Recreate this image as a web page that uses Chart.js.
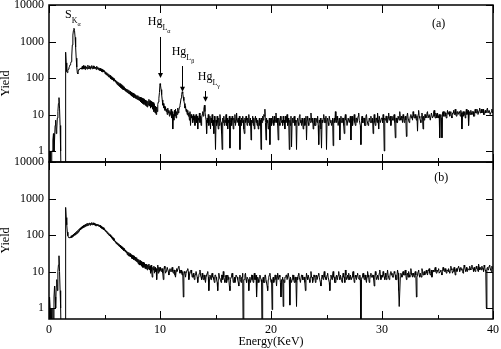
<!DOCTYPE html>
<html><head><meta charset="utf-8">
<script src="https://cdn.jsdelivr.net/npm/chart.js@4/dist/chart.umd.min.js"></script>
<style>
html,body{margin:0;padding:0;background:#fff;width:501px;height:349px;overflow:hidden;position:relative}
canvas{position:absolute;left:0}
#ca{top:0}
#cb{top:150px}
#warn{position:absolute;left:200px;top:150px;color:red;font:12px sans-serif}
</style></head><body>
<canvas id="ca" width="501" height="170"></canvas>
<canvas id="cb" width="501" height="199"></canvas>
<script>
// Channel energy calibration (keV)
const E_START = 0, E_STEP = 0.05;

// Panel (a) yield, one row of 20 channels per keV; last value at 40.00 keV
const yieldA = [
0.1,1,1,0.1,0.1,1,1,2,3,1,2,5,7,3,4,8,12,20,29,15,
5,1,0.1,0.1,0.1,0.1,0.1,0.1,0.1,0.1,510,260,150,140,160,175,190,210,230,250,
280,400,800,1500,2000,2300,2000,1300,700,350,200,140,130,165,175,170,185,180,190,175,
210,175,220,180,205,170,215,185,200,175,225,190,180,215,175,205,190,220,178,200,
215,180,205,185,200,170,210,178,195,168,190,160,185,158,178,150,172,145,165,148,
155,130,148,122,140,118,132,108,125,104,118,96,110,92,104,88,98,82,95,80,
88,72,82,66,78,62,74,58,70,55,66,52,62,49,58,47,55,44,52,42,
50,40,48,38,46,36,43,34,41,32,39,31,38,29,36,28,35,27,33,26,
33,25,31,24,30,22,29,21,28,20,27,19,26,18,25,17,24,16,23,18,
26,17,24,15,23,16,22,14,21,12,19,11,17,10,16,12,19,22,28,40,
70,62,48,35,25,18,20,15,17,13,16,12,14,10,15,11,13,9,12,10,
14,8,12,4,10,7,13,9,14,8,12,10,15,11,13,16,18,22,28,35,
42,38,30,24,20,15,17,12,14,10,13,9,11,7,12,5,10,8,9,6,
10,7,9,5,8,10,6,9,4,8,7,11,6,9,5,8,10,12,9,14,
18,12,9,7,3,8,6,10,5,7,9,4,8,6,10,5,7,3,9,6,
1.1,7,5,9,6,4,8,5,10,7,6,3,1.1,8,6,9,5,7,6,10,
5,8,4,7,6,9,1.2,6,8,5,9,7,4,8,6,10,5,7,11,6,
6,8,5,9,1.1,7,5,8,6,9,7,4,3,8,6,9,7,5,8,6,
10,6,5,8,2,7,6,9,5,8,4,7,9,6,8,5,7,4,6,8,
5,7,1.1,8,6,9,7,10,9,14,6,2,8,6,7,4,5,8,1.5,7,
8,5,6,9,7,5,9,6,7,11,6,8,5,2,8,6,5,9,7,6,
7,5,9,6,7,4,9,6,8,10,5,8,6,1.1,7,5,9,1.3,6,8,
6,8,9,5,7,6,1.1,7,8,6,5,9,10,6,7,5,8,6,4,7,
8,5,6,9,2,7,9,6,5,8,7,6,11,7,6,8,4,6,8,5,
5,8,7,6,9,5,1.5,7,6,8,4,1.2,7,6,8,10,6,8,6,9,
1.1,7,8,6,5,9,9,6,7,5,6,8,1.4,7,8,6,12,7,6,9,
7,5,5,8,2,7,9,6,6,8,8,5,3,8,10,7,7,5,5,8,
8,6,6,9,2,7,9,5,7,8,10,6,5,8,8,6,6,9,11,7,
7,5,1.5,7,9,6,6,8,8,5,5,9,10,7,7,5,6,8,8,6,
9,6,6,8,3,7,10,6,5,8,8,6,11,7,4,9,9,6,6,8,
8,6,10,7,1.0,8,7,9,9,6,6,8,11,7,8,9,5,7,9,7,
7,9,10,6,2.3,8,8,6,6,9,9,7,12,8,7,9,8,6,10,8,
6,8,9,7,2.5,9,11,8,8,6,7,9,10,8,9,7,12,9,8,10,
10,8,7,9,3.5,10,13,9,8,7,6,9,11,8,4,9,7,10,10,8,
9,11,12,8,8,10,10,7,7,11,11,8,9,12,13,9,8,11,10,8,
11,9,8,10,2.3,9,10,8,2.3,11,12,9,9,12,11,9,8,10,13,10,
10,12,9,11,12,9,8,11,11,13,10,12,14,10,9,12,12,10,10,12,
11,9,13,11,4,10,12,9,10,12,8,11,14,10,11,13,5,10,12,10,
13,11,10,12,12,9,9,12,14,11,11,14,13,10,10,13,15,11,12,14,
11,13,14,10,10,12,13,11,12,14,15,11,11,13,13,10,10,12,14,11,
12
];

// Panel (b) yield
const yieldB = [
0.1,2,1,0.1,1,1,0.1,1,0.1,2,4,2,1,4,6,3,10,15,27,10,
3,1,0.1,0.1,0.1,0.1,0.1,0.1,0.1,0.1,570,300,190,120,95,88,85,82,88,85,
95,85,100,90,106,96,112,100,118,106,126,112,134,120,145,130,155,138,165,148,
175,155,182,162,190,170,198,176,205,180,212,185,200,215,185,210,195,220,190,212,
215,188,210,180,205,178,200,182,198,175,190,168,185,160,175,152,165,145,158,138,
148,128,138,120,128,110,118,102,110,94,102,88,95,82,88,76,82,70,76,64,
68,58,64,55,60,51,57,48,53,45,50,42,47,40,44,37,42,35,39,33,
36,29,34,27,33,26,31,25,29,23,28,22,27,21,26,20,25,19,24,18,
22,16,21,15,20,15,19,14,18,13,18,13,17,12,16,12,16,11,15,12,
16,11,14,9,15,10,7,13,11,14,9,13,10,12,6,11,15,9,13,10,
13,11,10,12,12,9,6,11,14,12,9,10,11,13,13,10,8,11,12,10,
10,12,13,10,9,11,11,8,7,10,12,10,10,13,14,11,9,10,11,9,
8,10,2,8,10,9,7,9,9,11,12,10,6,8,8,10,11,9,7,8,
9,7,6,8,8,10,10,7,5,7,8,9,11,8,7,6,9,7,6,8,
8,6,5,7,7,9,10,7,3,6,8,7,6,8,9,7,7,6,5,8,
8,7,6,5,3,6,9,7,7,6,5,8,8,6,10,7,6,5,7,8,
5,6,8,7,6,4,3,6,7,8,9,7,5,6,7,5,6,8,8,7,
6,5,4,7,8,6,5,7,7,9,0.1,6,6,8,9,6,5,7,7,6,
3,6,7,5,6,8,8,6,5,7,9,6,6,8,2,5,7,6,5,7,
8,7,6,5,0.1,6,7,5,5,8,8,6,6,4,3,6,7,8,9,7,
5,6,0.9,6,7,5,6,8,8,6,4,7,9,6,6,8,7,5,2,6,
6,7,1.1,6,5,7,7,8,8,6,6,9,9,6,1.2,7,7,5,6,8,
8,6,5,7,7,5,1.1,7,6,8,9,7,7,5,5,8,8,6,6,7,
7,5,3,6,9,7,6,8,8,6,5,7,10,7,7,5,6,8,8,7,
5,7,8,6,6,8,9,7,7,5,4,6,8,7,6,8,10,7,7,6,
6,8,9,7,7,5,3,6,8,7,6,8,10,7,7,5,5,7,8,6,
7,8,10,7,6,8,8,6,5,7,9,7,7,5,11,8,6,7,8,6,
9,7,6,8,8,6,7,9,10,7,5,6,8,7,6,8,9,7,7,6,
8,6,0.1,6,7,8,9,7,6,8,8,6,5,7,10,8,7,5,6,8,
9,7,7,8,8,6,4,7,10,8,6,7,8,6,7,9,11,8,6,7,
8,7,10,8,7,6,9,7,6,8,11,8,8,6,7,9,10,8,9,7,
7,8,10,9,8,6,6,8,11,9,3,1.1,1.1,7,9,8,7,9,10,8,
8,10,11,8,6,8,9,7,10,8,7,9,12,9,8,7,9,8,7,9,
10,8,2,7,8,10,11,8,7,9,9,7,12,10,8,9,10,8,9,10,
11,9,8,10,10,12,9,8,9,11,7,9,11,10,10,12,13,10,9,11,
10,11,12,9,9,10,11,9,8,10,13,11,10,12,12,10,9,11,11,10,
12,10,9,11,14,12,11,9,10,12,13,10,8,11,12,10,11,13,14,12,
10,12,13,11,12,10,9,11,15,13,11,10,13,11,10,12,12,11,14,12,
11,13,15,12,12,10,13,11,10,12,14,12,12,10,16,13,11,12,13,11,
14,12,12,10,15,13,11,10,1.0,12,13,11,12,14,15,12,11,10,14,12,
13
];

const xMajorTicks = [0, 10, 20, 30, 40];
const xMinorTicks = [5, 15, 25, 35];
const yTicks = [1, 10, 100, 1000, 10000];

// Peak labels (data coordinates of the text baseline start) and arrows
const peakLabels = [
  {main:'S',  sub:'K', subsub:'α', e:1.44, v:4400},
  {main:'Hg', sub:'L', subsub:'α', e:8.9,  v:2830},
  {main:'Hg', sub:'L', subsub:'β', e:11.05, v:427},
  {main:'Hg', sub:'L', subsub:'γ', e:13.4, v:88}
];
const peakArrows = [
  {e:10.0, from:1330, to:100},
  {e:12.0, from:213, to:42},
  {e:14.05, from:44, to:22.4}
];
const panelTagA = {text:'(a)', e:34.5, v:2500};
const panelTagB = {text:'(b)', e:34.7, v:3000};

if (yieldA.length !== 801 || yieldB.length !== 801) {
  const d = document.createElement('div'); d.id = 'warn';
  d.textContent = 'len ' + yieldA.length + ' ' + yieldB.length;
  document.body.appendChild(d);
}

const FONT = "'Liberation Serif','Times New Roman',serif";
Chart.defaults.font.family = FONT;
Chart.defaults.font.size = 12;
Chart.defaults.color = '#000';

const frameTicks = {
  id: 'frameTicks',
  afterDatasetsDraw(chart) {
    const {ctx, chartArea: a, scales: {x, y}} = chart;
    ctx.save();
    ctx.strokeStyle = '#000';
    ctx.lineWidth = 1;
    ctx.beginPath();
    yTicks.forEach(v => {
      const py = Math.round(y.getPixelForValue(v)) + 0.5;
      ctx.moveTo(a.left, py); ctx.lineTo(a.left + 7, py);
      ctx.moveTo(a.right, py); ctx.lineTo(a.right - 7, py);
    });
    const xt = (list, len) => list.forEach(v => {
      const px = Math.round(x.getPixelForValue(v)) + 0.5;
      ctx.moveTo(px, a.top); ctx.lineTo(px, a.top + len);
      ctx.moveTo(px, a.bottom); ctx.lineTo(px, a.bottom - len);
    });
    xt(xMajorTicks, 8);
    xt(xMinorTicks, 4);
    ctx.stroke();
    ctx.lineWidth = 1.5;
    ctx.strokeRect(a.left, a.top, a.right - a.left, a.bottom - a.top);
    ctx.restore();
  }
};

const annot = {
  id: 'annot',
  afterDatasetsDraw(chart, args, opts) {
    const {ctx, scales: {x, y}} = chart;
    ctx.save();
    ctx.fillStyle = '#000';
    ctx.strokeStyle = '#000';
    ctx.textAlign = 'left';
    ctx.textBaseline = 'alphabetic';
    (opts.labels || []).forEach(l => {
      const px = x.getPixelForValue(l.e), py = y.getPixelForValue(l.v);
      ctx.font = '12px ' + FONT;
      ctx.fillText(l.main, px, py);
      const w1 = ctx.measureText(l.main).width;
      ctx.font = '8px ' + FONT;
      ctx.fillText(l.sub, px + w1, py + 5);
      const w2 = ctx.measureText(l.sub).width;
      ctx.font = '6px ' + FONT;
      ctx.fillText(l.subsub, px + w1 + w2, py + 8);
    });
    (opts.arrows || []).forEach(ar => {
      const px = Math.round(x.getPixelForValue(ar.e)) + 0.5;
      const y1 = y.getPixelForValue(ar.from), y2 = y.getPixelForValue(ar.to);
      ctx.lineWidth = 1;
      ctx.beginPath(); ctx.moveTo(px, y1); ctx.lineTo(px, y2 - 4); ctx.stroke();
      ctx.beginPath(); ctx.moveTo(px, y2); ctx.lineTo(px - 2.5, y2 - 5); ctx.lineTo(px + 2.5, y2 - 5); ctx.closePath(); ctx.fill();
    });
    if (opts.tag) {
      ctx.font = '12px ' + FONT;
      ctx.fillText(opts.tag.text, x.getPixelForValue(opts.tag.e), y.getPixelForValue(opts.tag.v));
    }
    ctx.restore();
  }
};

function yScale() {
  return {
    type: 'logarithmic', min: 0.5, max: 10000,
    afterBuildTicks: s => { s.ticks = yTicks.map(v => ({value: v})); },
    afterFit: s => { s.width = 49; s.paddingTop = 0; s.paddingBottom = 0; },
    grid: {display: false, drawTicks: false},
    border: {display: false},
    ticks: {color: '#000', padding: 5, autoSkip: false, callback: v => String(v)},
    title: {display: true, text: 'Yield', color: '#000', font: {size: 12, lineHeight: 1}, padding: 0}
  };
}

function series(arr) {
  return arr.map((v, i) => ({x: +(E_START + i * E_STEP).toFixed(2), y: v}));
}

function dataset(arr) {
  return {data: series(arr), borderColor: '#000', borderWidth: 1, pointRadius: 0, fill: false, tension: 0};
}

new Chart(document.getElementById('ca'), {
  type: 'line',
  data: {datasets: [dataset(yieldA)]},
  options: {
    responsive: false, animation: false, devicePixelRatio: 1,
    layout: {padding: {top: 5, bottom: 8, right: 8, left: 0}},
    plugins: {legend: {display: false}, tooltip: {enabled: false},
      annot: {labels: peakLabels, arrows: peakArrows, tag: panelTagA}},
    scales: {
      x: {type: 'linear', min: 0, max: 40, display: false},
      y: yScale()
    }
  },
  plugins: [frameTicks, annot]
});

new Chart(document.getElementById('cb'), {
  type: 'line',
  data: {datasets: [dataset(yieldB)]},
  options: {
    responsive: false, animation: false, devicePixelRatio: 1,
    layout: {padding: {top: 12, bottom: 0, right: 8, left: 0}},
    plugins: {legend: {display: false}, tooltip: {enabled: false},
      annot: {tag: panelTagB}},
    scales: {
      x: {
        type: 'linear', min: 0, max: 40,
        afterBuildTicks: s => { s.ticks = xMajorTicks.map(v => ({value: v})); },
        afterFit: s => { s.height = 30; s.paddingLeft = 0; s.paddingRight = 0; },
        grid: {display: false, drawTicks: false},
        border: {display: false},
        ticks: {color: '#000', padding: 4, maxRotation: 0, autoSkip: false, callback: v => String(v)},
        title: {display: true, text: 'Energy(KeV)', color: '#000', padding: {top: 0, bottom: 0}}
      },
      y: yScale()
    }
  },
  plugins: [frameTicks, annot]
});
</script>
</body></html>
